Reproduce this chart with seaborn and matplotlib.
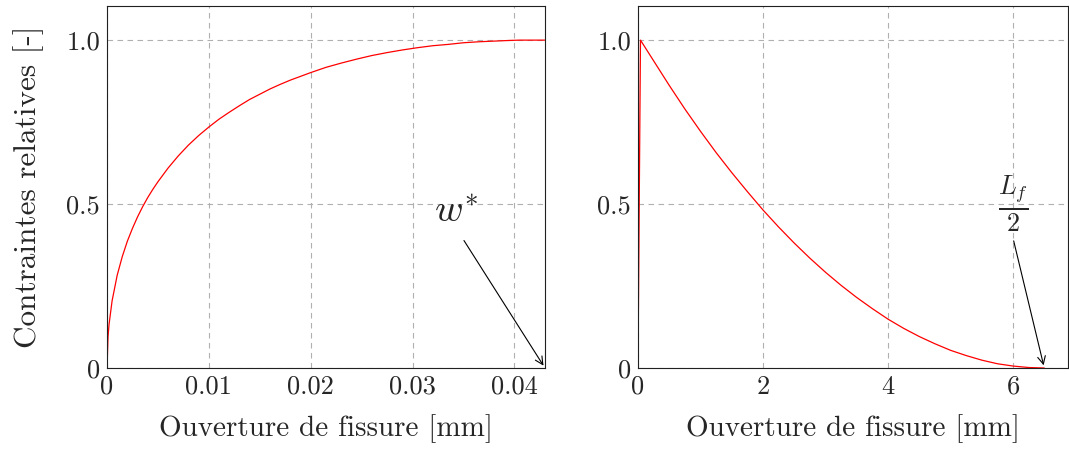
import numpy as np
import pandas as pd
import matplotlib
matplotlib.use('Agg')
import matplotlib.pyplot as plt
import seaborn as sns

# Valeurs
# Gauche : loi d'adoucissement (ouverture 0 -> w*)
w_gauche = [0, 0.0001, 0.0002, 0.0005, 0.001, 0.0015, 0.002, 0.0025, 0.003, 0.0035,
            0.004, 0.0045, 0.005, 0.006, 0.007, 0.008, 0.009, 0.010, 0.011, 0.012,
            0.013, 0.014, 0.015, 0.016, 0.017, 0.018, 0.020, 0.0215, 0.023, 0.0245,
            0.026, 0.0275, 0.029, 0.0305, 0.032, 0.0335, 0.035, 0.0365, 0.038,
            0.0395, 0.0405, 0.043]
s_gauche = [0, 0.095, 0.133, 0.205, 0.283, 0.340, 0.387, 0.426, 0.461, 0.492,
            0.520, 0.545, 0.568, 0.610, 0.647, 0.680, 0.709, 0.735, 0.759, 0.780,
            0.800, 0.819, 0.835, 0.851, 0.865, 0.878, 0.901, 0.917, 0.930, 0.942,
            0.953, 0.962, 0.970, 0.977, 0.983, 0.987, 0.992, 0.995, 0.997,
            0.999, 1.0, 1.0]

# Droite : arrachement des fibres jusqu'a Lf/2
w_droite = [0, 0.04, 0.25, 0.5, 0.75, 1.0, 1.25, 1.5, 1.75, 2.0, 2.25, 2.5, 2.75,
            3.0, 3.25, 3.5, 3.75, 4.0, 4.25, 4.5, 4.75, 5.0, 5.25, 5.5, 5.75,
            6.0, 6.25, 6.5]
s_droite = [0, 1.0, 0.937, 0.862, 0.790, 0.722, 0.657, 0.596, 0.538, 0.482, 0.430,
            0.381, 0.335, 0.292, 0.252, 0.215, 0.181, 0.149, 0.121, 0.096, 0.074,
            0.054, 0.038, 0.024, 0.013, 0.006, 0.0015, 0.0]

xticks_gauche = [0, 0.01, 0.02, 0.03, 0.04]
xlabels_gauche = ['0', '0.01', '0.02', '0.03', '0.04']
xticks_droite = [0, 2, 4, 6]
xlabels_droite = ['0', '2', '4', '6']
yticks = [0, 0.5, 1.0]
ylabels = ['0', '0.5', '1.0']

df_g = pd.DataFrame({'w': w_gauche, 's': s_gauche})
df_d = pd.DataFrame({'w': w_droite, 's': s_droite})

sns.set_style('white')
plt.rcParams['mathtext.fontset'] = 'cm'
plt.rcParams['font.family'] = ['cmr10', 'DejaVu Serif']
plt.rcParams['axes.formatter.use_mathtext'] = True

fig = plt.figure(figsize=(10.69, 4.5), dpi=100)
ax1 = fig.add_axes([0.1001, 0.1822, 0.4097, 0.8044])
ax2 = fig.add_axes([0.5968, 0.1822, 0.4023, 0.8044])

for ax, df, xlim, xt, xl in [(ax1, df_g, 0.043, xticks_gauche, xlabels_gauche),
                             (ax2, df_d, 6.88, xticks_droite, xlabels_droite)]:
    sns.lineplot(data=df, x='w', y='s', ax=ax, color='red', lw=0.9, sort=False)
    ax.set_xlim(0, xlim)
    ax.set_ylim(0, 1.104)
    ax.set_xticks(xt)
    ax.set_xticklabels(xl, fontsize=19)
    ax.set_yticks(yticks)
    ax.set_yticklabels(ylabels, fontsize=19)
    ax.grid(True, color='#b0b0b0', linestyle=(0, (5, 4)), lw=0.8)
    ax.tick_params(length=0, pad=5)
    for sp in ax.spines.values():
        sp.set_color('#202020')
        sp.set_linewidth(0.8)
    ax.set_xlabel('Ouverture de fissure [mm]', fontsize=21, labelpad=11)
    ax.set_ylabel('')

ax1.set_ylabel('Contraintes relatives [-]', fontsize=22.5, labelpad=16)

arrow = dict(arrowstyle='->', color='black', lw=0.8, mutation_scale=14)
ax1.annotate('', xy=(0.043, 0), xytext=(0.0349, 0.396), arrowprops=arrow,
             annotation_clip=False)
ax1.text(0.0343, 0.475, r'$w^{*}$', fontsize=28, ha='center', va='center')

ax2.annotate('', xy=(6.5, 0), xytext=(6.0, 0.396), arrowprops=arrow,
             annotation_clip=False)
ax2.text(6.0, 0.50, r'$\frac{L_f}{2}$', fontsize=27, ha='center', va='center')

fig.savefig('out.png', dpi=100)
